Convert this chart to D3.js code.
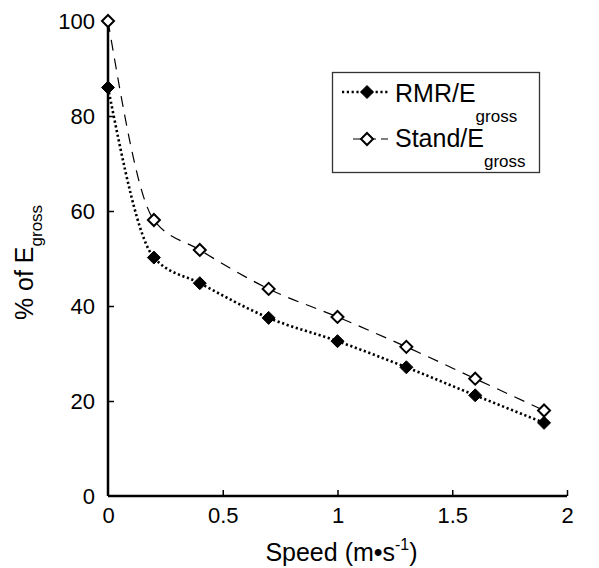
<!DOCTYPE html>
<meta charset="utf-8">
<style>
	body { margin: 0; background: #fff; }
	svg { font-family: Arial, "Liberation Sans", sans-serif; }
	.axis-line { stroke: #000; stroke-width: 2.5; fill: none; }
	.line-rmr { stroke: #000; stroke-width: 2.6; stroke-dasharray: 2.2 2.6; fill: none; }
	.line-stand { stroke: #000; stroke-width: 1.2; stroke-dasharray: 11 8; fill: none; }
	.dot-rmr { fill: #000; stroke: #000; stroke-width: 1; }
	.dot-stand { fill: #fff; stroke: #000; stroke-width: 2; }
</style>
<div class="vis"></div>
<script src="https://d3js.org/d3.v7.min.js"></script>
<script>
	// Data
	const speed = [0, 0.2, 0.4, 0.7, 1.0, 1.3, 1.6, 1.9];
	const rmr   = [86.0, 50.2, 44.8, 37.5, 32.6, 27.1, 21.2, 15.4];
	const stand = [100, 58.1, 51.8, 43.6, 37.7, 31.4, 24.7, 18.0];
	const xTicks = [0, 0.5, 1, 1.5, 2];
	const yTicks = [0, 20, 40, 60, 80, 100];

	// Setup
	let W = 599, H = 568;
	let margin = {left: 108, right: 32, top: 21, bottom: 72};

	let x = d3.scaleLinear().domain([0, 2]).range([margin.left, W - margin.right]);
	let y = d3.scaleLinear().domain([0, 100]).range([H - margin.bottom, margin.top]);

	let svg = d3.select(".vis").append("svg")
		.attr("width", W)
		.attr("height", H);

	// Axes
	let xAxis = d3.axisBottom(x).tickValues(xTicks).tickSize(-6).tickPadding(11)
		.tickFormat(d => d3.format("")(d));
	let yAxis = d3.axisLeft(y).tickValues(yTicks).tickSize(-6).tickPadding(13);

	let gx = svg.append("g")
		.attr("transform", "translate(0," + y(0) + ")")
		.call(xAxis);
	let gy = svg.append("g")
		.attr("transform", "translate(" + x(0) + ",0)")
		.call(yAxis);

	[gx, gy].forEach(g => {
		g.select(".domain").remove();
		g.selectAll(".tick line").attr("stroke", "#000").attr("stroke-width", 1.5);
		g.selectAll(".tick text").attr("fill", "#000").style("font-size", "22px");
	});
	gx.selectAll(".tick").filter(d => d === 0).select("line").remove();
	gy.selectAll(".tick").filter(d => d === 0).select("line").remove();
	gx.selectAll(".tick text").attr("dy", "0.71em");

	svg.append("line").attr("class", "axis-line")
		.attr("x1", x(0)).attr("x2", x(2)).attr("y1", y(0)).attr("y2", y(0));
	svg.append("line").attr("class", "axis-line")
		.attr("x1", x(0)).attr("x2", x(0)).attr("y1", y(0)).attr("y2", y(100));

	// Axis titles
	let xt = svg.append("text")
		.attr("x", (x(0) + x(2)) / 2 + 4)
		.attr("y", 561)
		.attr("text-anchor", "middle")
		.style("font-size", "25px");
	xt.append("tspan").text("Speed (m\u2022s");
	xt.append("tspan").attr("dy", -11).style("font-size", "16px").text("-1");
	xt.append("tspan").attr("dy", 11).text(")");

	let yt = svg.append("text")
		.attr("transform", "translate(33," + ((y(0) + y(100)) / 2 + 4) + ") rotate(-90)")
		.attr("text-anchor", "middle")
		.style("font-size", "25px");
	yt.append("tspan").text("% of E");
	yt.append("tspan").attr("dy", 9).style("font-size", "17px").text("gross");

	// Lines
	let pts = vals => speed.map((s, i) => [s, vals[i]]);
	let line = d3.line()
		.x(d => x(d[0]))
		.y(d => y(d[1]))
		.curve(d3.curveMonotoneX);

	svg.append("path").attr("class", "line-stand").attr("d", line(pts(stand)));
	svg.append("path").attr("class", "line-rmr").attr("d", line(pts(rmr)));

	let diamond = r => "M0," + (-r) + "L" + r + ",0L0," + r + "L" + (-r) + ",0Z";

	svg.selectAll(".dot-stand")
		.data(pts(stand))
		.enter().append("path")
		.attr("class", "dot-stand")
		.attr("d", diamond(6))
		.attr("transform", d => "translate(" + x(d[0]) + "," + y(d[1]) + ")");

	svg.selectAll(".dot-rmr")
		.data(pts(rmr))
		.enter().append("path")
		.attr("class", "dot-rmr")
		.attr("d", diamond(6.5))
		.attr("transform", d => "translate(" + x(d[0]) + "," + y(d[1]) + ")");

	// Legend
	let legend = svg.append("g");
	legend.append("rect")
		.attr("x", 332.5).attr("y", 72.5)
		.attr("width", 207).attr("height", 100)
		.attr("fill", "#fff").attr("stroke", "#333").attr("stroke-width", 1.3);

	let entries = [
		{name: "RMR/E", cls: "rmr", ly: 92, ty: 102},
		{name: "Stand/E", cls: "stand", ly: 139, ty: 147}
	];
	entries.forEach(e => {
		legend.append("line").attr("class", "line-" + e.cls)
			.attr("x1", e.cls === "rmr" ? 342 : 352).attr("x2", 388)
			.attr("y1", e.ly).attr("y2", e.ly)
			.style("stroke-dasharray", e.cls === "rmr" ? null : "9 5")
			.style("stroke-dashoffset", e.cls === "rmr" ? null : -1);
		legend.append("path").attr("class", "dot-" + e.cls)
			.attr("d", diamond(e.cls === "rmr" ? 6.5 : 6))
			.attr("transform", "translate(367," + e.ly + ")");
		let t = legend.append("text")
			.attr("x", 395).attr("y", e.ty)
			.style("font-size", "25px");
		t.append("tspan").text(e.name);
		t.append("tspan").attr("dy", 20).style("font-size", "17px").text("gross");
	});
</script>
